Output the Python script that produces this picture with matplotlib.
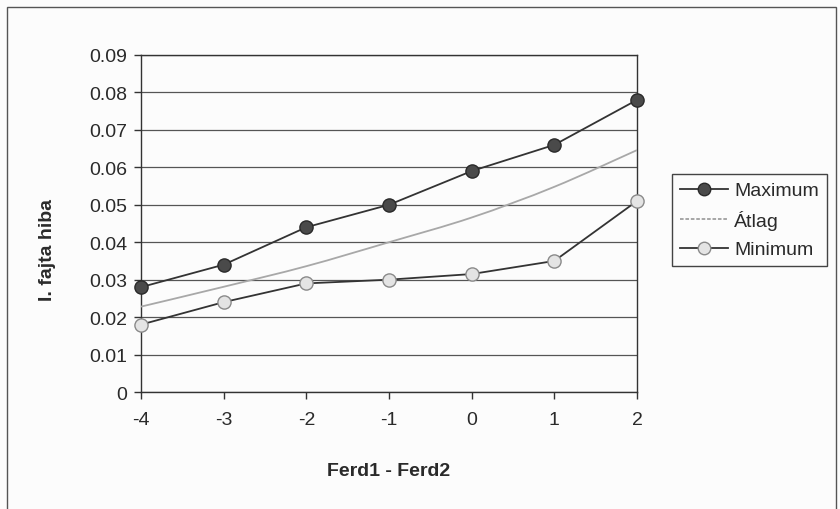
import matplotlib
matplotlib.use("Agg")
import matplotlib.pyplot as plt
from matplotlib.path import Path
from matplotlib.patches import PathPatch, Rectangle
from matplotlib.lines import Line2D
import numpy as np

plt.rcParams['font.family'] = ['Liberation Sans', 'DejaVu Sans']

# Data
ferd_diff = [-4, -3, -2, -1, 0, 1, 2]
maximum = [0.028, 0.034, 0.044, 0.050, 0.059, 0.066, 0.078]
atlag = [0.0228, 0.0281, 0.0336, 0.0400, 0.0466, 0.0548, 0.0646]
minimum = [0.018, 0.024, 0.029, 0.030, 0.0315, 0.035, 0.051]
y_ticks = [0, 0.01, 0.02, 0.03, 0.04, 0.05, 0.06, 0.07, 0.08, 0.09]
y_tick_labels = ['0', '0.01', '0.02', '0.03', '0.04', '0.05', '0.06', '0.07', '0.08', '0.09']

text_col = '#2a2a2a'
bg = '#fcfcfc'
fs = 14

fig = plt.figure(figsize=(8.4, 5.1), dpi=100, facecolor=bg)
ax = fig.add_axes([141/840, 1 - 393/510, (637-141)/840, (393-56)/510])
ax.set_facecolor(bg)

# chart frame
fig.patches.append(Rectangle((7/840, -0.02), (836-7)/840, 1 - 8/510 + 0.02,
                             transform=fig.transFigure, fill=False,
                             edgecolor='#555555', lw=1.0))

ax.set_xlim(-4, 2)
ax.set_ylim(0, 0.09)
ax.set_xticks(ferd_diff)
ax.set_xticklabels([str(v) for v in ferd_diff])
ax.set_yticks(y_ticks)
ax.set_yticklabels(y_tick_labels)
ax.tick_params(axis='both', labelsize=fs, colors='#333333', labelcolor=text_col,
               length=5, width=1, direction='out')
ax.tick_params(axis='x', pad=9)
ax.tick_params(axis='y', pad=5)
ax.yaxis.grid(True, color='#555555', lw=0.9)
ax.set_axisbelow(True)
for s in ax.spines.values():
    s.set_color('#333333')
    s.set_linewidth(1.0)

ax.set_xlabel('Ferd1 - Ferd2', fontsize=fs, fontweight='bold', color=text_col)
ax.set_ylabel('I. fajta hiba', fontsize=fs, fontweight='bold', color=text_col)
ax.xaxis.set_label_coords(0.5, (393 - 472) / 337, transform=ax.transAxes)
ax.xaxis.label.set_va('center')
ax.yaxis.set_label_coords((47 - 141) / 496, 0.5 - (250 - 224) / 337)
ax.yaxis.label.set_va('center')

# smoothed average curve (Catmull-Rom Bezier through the points)
xs = np.array(ferd_diff, dtype=float)
ys = np.array(atlag, dtype=float)
verts = [(xs[0], ys[0])]
codes = [Path.MOVETO]
n = len(xs)
for i in range(n - 1):
    p0 = np.array([xs[max(i-1, 0)], ys[max(i-1, 0)]])
    p1 = np.array([xs[i], ys[i]])
    p2 = np.array([xs[i+1], ys[i+1]])
    p3 = np.array([xs[min(i+2, n-1)], ys[min(i+2, n-1)]])
    c1 = p1 + (p2 - p0) / 6
    c2 = p2 - (p3 - p1) / 6
    verts += [tuple(c1), tuple(c2), tuple(p2)]
    codes += [Path.CURVE4] * 3
ax.add_patch(PathPatch(Path(verts, codes), fill=False, edgecolor='#a8a8a8',
                       lw=1.3, zorder=3))

ax.plot(ferd_diff, maximum, color='#333333', lw=1.3, marker='o', ms=9.5,
        mfc='#4a4a4a', mec='#2a2a2a', mew=1.0, zorder=4, clip_on=False)
ax.plot(ferd_diff, minimum, color='#333333', lw=1.3, marker='o', ms=9.5,
        mfc='#e4e4e4', mec='#8a8a8a', mew=1.0, zorder=4, clip_on=False)

handles = [
    Line2D([], [], color='#333333', lw=1.3, marker='o', ms=9,
           mfc='#4a4a4a', mec='#2a2a2a'),
    Line2D([], [], color='#a0a0a0', lw=1.3, ls=(0, (2, 1))),
    Line2D([], [], color='#333333', lw=1.3, marker='o', ms=9,
           mfc='#e4e4e4', mec='#8a8a8a'),
]
leg = fig.legend(handles, ['Maximum', 'Átlag', 'Minimum'],
                 loc='upper left', bbox_to_anchor=(672/840, 1 - 175/510),
                 fontsize=fs, frameon=True, fancybox=False, framealpha=1,
                 edgecolor='#444444', facecolor=bg, handlelength=2.5,
                 handletextpad=0.3, borderpad=0.4, labelspacing=0.55,
                 borderaxespad=0)
leg.get_frame().set_linewidth(1.0)
for t in leg.get_texts():
    t.set_color(text_col)

fig.savefig('out.png', dpi=100, facecolor=bg)
